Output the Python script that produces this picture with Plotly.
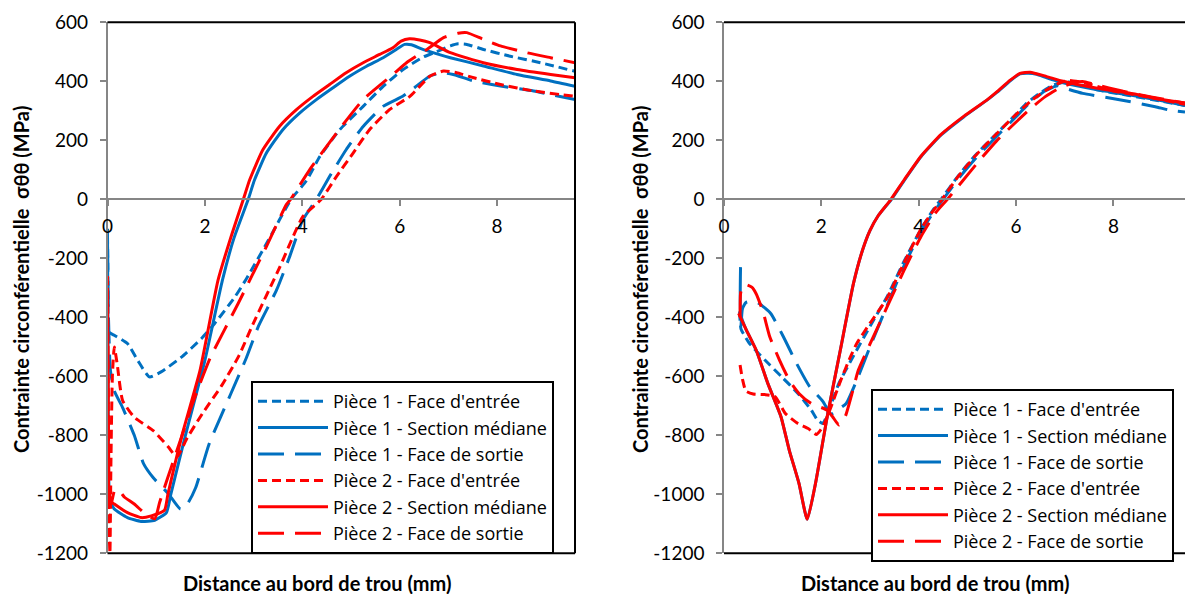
import plotly.graph_objects as go

# ---------------- data: left chart ----------------
L_P1_ENT_X = [0.0, 0.01, 0.03, 0.14, 0.41, 0.62, 0.86, 1.1, 1.52, 1.93, 2.2, 2.62, 2.85, 3.3, 3.77, 4.08, 4.36, 4.77, 5.25, 5.66, 6.07, 6.48, 6.75, 7.04, 7.2, 7.38, 7.72, 8.27, 8.89, 9.6]
L_P1_ENT_Y = [-120, -300, -450, -461, -489, -546, -602, -585, -535, -472, -421, -330, -270, -140, 0, 62, 145, 236, 315, 383, 440, 482, 500, 520, 527, 525, 508, 485, 463, 434]

L_P1_MED_X = [0.0, 0.01, 0.02, 0.05, 0.14, 0.41, 0.69, 0.97, 1.21, 1.3, 1.6, 2.0, 2.36, 2.6, 2.89, 3.02, 3.26, 3.6, 3.95, 4.29, 4.63, 4.97, 5.32, 5.66, 5.93, 6.1, 6.24, 6.45, 6.75, 7.04, 7.72, 8.41, 9.1, 9.6]
L_P1_MED_Y = [-100, -500, -900, -1020, -1050, -1079, -1092, -1088, -1062, -1000, -800, -546, -274, -130, 0, 66, 156, 236, 293, 338, 378, 417, 451, 480, 508, 525, 524, 510, 494, 480, 452, 423, 401, 383]

L_P1_SOR_X = [0.0, 0.02, 0.06, 0.14, 0.31, 0.55, 0.74, 0.94, 1.25, 1.5, 1.65, 1.81, 2.09, 2.53, 2.85, 3.1, 3.47, 3.75, 4.01, 4.29, 4.56, 4.9, 5.25, 5.66, 6.07, 6.28, 6.62, 6.9, 7.1, 7.52, 8.07, 8.75, 9.6]
L_P1_SOR_Y = [-150, -400, -580, -650, -706, -800, -896, -944, -998, -1050, -1030, -978, -828, -660, -538, -430, -308, -190, -70, 0, 77, 168, 247, 315, 350, 375, 418, 429, 423, 401, 384, 367, 338]

L_P2_ENT_X = [0.0, 0.015, 0.03, 0.05, 0.07, 0.1, 0.14, 0.2, 0.31, 0.55, 0.94, 1.25, 1.42, 1.64, 1.95, 2.35, 2.7, 2.99, 3.54, 4.01, 4.39, 4.7, 5.04, 5.38, 5.79, 6.21, 6.62, 6.9, 7.17, 7.52, 8.07, 8.75, 9.6]
L_P2_ENT_Y = [-260, -700, -1100, -1200, -900, -600, -501, -560, -682, -739, -784, -840, -874, -808, -726, -630, -530, -422, -229, -59, 0, 77, 156, 236, 304, 349, 417, 435, 429, 412, 389, 367, 349]

L_P2_MED_X = [0.0, 0.01, 0.02, 0.04, 0.14, 0.41, 0.69, 0.9, 1.17, 1.24, 1.53, 1.9, 2.27, 2.55, 2.79, 2.92, 3.19, 3.53, 3.88, 4.22, 4.56, 4.9, 5.25, 5.59, 5.86, 6.03, 6.2, 6.41, 6.62, 7.04, 7.72, 8.41, 9.1, 9.6]
L_P2_MED_Y = [-300, -650, -950, -1020, -1033, -1062, -1079, -1073, -1054, -1000, -800, -580, -274, -120, 0, 66, 168, 247, 304, 349, 389, 429, 463, 491, 514, 536, 544, 540, 531, 497, 463, 440, 423, 412]

L_P2_SOR_X = [0.0, 0.02, 0.04, 0.08, 0.15, 0.25, 0.35, 0.55, 0.78, 0.97, 1.07, 1.17, 1.31, 1.45, 1.59, 1.72, 2.1, 2.68, 3.26, 3.67, 3.76, 4.15, 4.7, 5.25, 5.86, 6.14, 6.34, 6.56, 6.9, 7.2, 7.38, 7.72, 8.07, 8.61, 9.1, 9.6]
L_P2_SOR_Y = [-480, -800, -1000, -1030, -985, -990, -1010, -1033, -1067, -1083, -1028, -977, -908, -840, -772, -704, -541, -354, -161, -19, 0, 100, 224, 338, 423, 463, 485, 508, 548, 563, 565, 542, 520, 497, 480, 463]

# ---------------- data: right chart ----------------
R_P1_ENT_X = [0.32, 0.35, 0.45, 0.52, 0.84, 1.18, 1.52, 1.79, 1.92, 2.03, 2.13, 2.36, 2.63, 3.0, 3.35, 3.7, 4.05, 4.3, 4.46, 4.8, 5.14, 5.54, 5.95, 6.22, 6.49, 6.76, 7.0, 7.2, 7.64, 8.32, 9.0, 9.47]
R_P1_ENT_Y = [-380, -440, -470, -488, -545, -601, -658, -714, -748, -760, -726, -624, -540, -430, -330, -210, -100, -35, 0, 77, 145, 213, 280, 326, 360, 387, 398, 395, 372, 352, 332, 318]

R_P1_MED_X = [0.34, 0.345, 0.45, 0.66, 0.9, 1.17, 1.34, 1.54, 1.71, 1.88, 2.12, 2.39, 2.66, 2.85, 3.0, 3.17, 3.44, 3.71, 4.05, 4.46, 4.93, 5.41, 5.61, 5.88, 6.08, 6.25, 6.42, 6.63, 6.97, 7.64, 8.32, 9.0, 9.47]
R_P1_MED_Y = [-230, -392, -440, -511, -624, -737, -850, -963, -1085, -963, -737, -511, -285, -170, -105, -55, 0, 66, 145, 218, 280, 337, 363, 402, 425, 427, 424, 412, 395, 372, 354, 334, 318]

R_P1_SOR_X = [0.35, 0.38, 0.45, 0.6, 0.73, 0.96, 1.22, 1.49, 1.76, 2.03, 2.2, 2.35, 2.51, 2.7, 3.0, 3.35, 3.7, 4.05, 4.3, 4.5, 4.85, 5.2, 5.6, 6.0, 6.3, 6.6, 6.85, 6.97, 7.37, 7.98, 8.86, 9.13, 9.47]
R_P1_SOR_Y = [-430, -370, -350, -345, -354, -387, -466, -556, -635, -685, -728, -712, -692, -624, -500, -360, -225, -110, -45, 0, 77, 145, 213, 280, 330, 368, 385, 378, 359, 342, 314, 303, 296]

R_P2_ENT_X = [0.33, 0.38, 0.45, 0.6, 0.84, 1.05, 1.26, 1.52, 1.73, 1.9, 2.03, 2.2, 2.4, 2.6, 2.73, 3.0, 3.35, 3.7, 4.05, 4.3, 4.48, 4.8, 5.14, 5.54, 5.95, 6.3, 6.6, 6.9, 7.1, 7.4, 8.0, 8.6, 9.47]
R_P2_ENT_Y = [-562, -610, -650, -660, -662, -669, -726, -760, -777, -797, -771, -703, -613, -533, -488, -420, -335, -215, -100, -38, 0, 75, 143, 212, 280, 333, 368, 395, 403, 395, 367, 350, 322]

R_P2_MED_X = [0.3, 0.45, 0.66, 0.9, 1.17, 1.34, 1.54, 1.71, 1.88, 2.12, 2.39, 2.66, 2.85, 3.0, 3.17, 3.43, 3.71, 4.05, 4.46, 4.93, 5.41, 5.61, 5.88, 6.08, 6.29, 6.63, 6.97, 7.64, 8.32, 9.0, 9.47]
R_P2_MED_Y = [-387, -440, -511, -624, -737, -850, -963, -1085, -963, -737, -511, -285, -170, -105, -55, 0, 68, 147, 220, 282, 338, 365, 404, 427, 431, 416, 400, 377, 360, 338, 326]

R_P2_SOR_X = [0.33, 0.34, 0.38, 0.46, 0.57, 0.66, 0.8, 0.94, 1.14, 1.34, 1.54, 1.79, 2.11, 2.23, 2.36, 2.49, 2.63, 2.76, 3.0, 3.35, 3.7, 4.05, 4.35, 4.59, 4.9, 5.25, 5.6, 6.0, 6.3, 6.6, 6.9, 7.2, 7.37, 7.6, 8.2, 8.8, 9.47]
R_P2_SOR_Y = [-400, -320, -295, -290, -298, -320, -380, -466, -545, -613, -658, -692, -714, -737, -765, -737, -658, -579, -490, -365, -240, -125, -45, 0, 62, 132, 198, 262, 308, 348, 378, 395, 399, 390, 366, 346, 326]

SERIES_NAMES = ["Pièce 1 - Face d'entrée", "Pièce 1 - Section médiane", "Pièce 1 - Face de sortie",
                "Pièce 2 - Face d'entrée", "Pièce 2 - Section médiane", "Pièce 2 - Face de sortie"]

Y_TICKS = [-1200, -1000, -800, -600, -400, -200, 0, 200, 400, 600]
Y_TICK_LABELS = ["-1200", "-1000", "-800", "-600", "-400", "-200", "0", "200", "400", "600"]
X_TICKS = [0, 2, 4, 6, 8]
X_TICK_LABELS = ["0", "2", "4", "6", "8"]

X_TITLE = "Distance au bord de trou (mm)"
Y_TITLE = "Contrainte circonférentielle \u00a0σθθ (MPa)"

# ---------------- styling ----------------
BLUE = "#0070C0"
RED = "#FF0000"
SHORT = "9px,5px"
LONG = "26px,11px"
FONT = "Lato"
GRAY = "#868686"

left = [(L_P1_ENT_X, L_P1_ENT_Y), (L_P1_MED_X, L_P1_MED_Y), (L_P1_SOR_X, L_P1_SOR_Y),
        (L_P2_ENT_X, L_P2_ENT_Y), (L_P2_MED_X, L_P2_MED_Y), (L_P2_SOR_X, L_P2_SOR_Y)]
right = [(R_P1_ENT_X, R_P1_ENT_Y), (R_P1_MED_X, R_P1_MED_Y), (R_P1_SOR_X, R_P1_SOR_Y),
         (R_P2_ENT_X, R_P2_ENT_Y), (R_P2_MED_X, R_P2_MED_Y), (R_P2_SOR_X, R_P2_SOR_Y)]
styles = [(BLUE, SHORT), (BLUE, "solid"), (BLUE, LONG), (RED, SHORT), (RED, "solid"), (RED, LONG)]

fig = go.Figure()
for (x, y), name, (c, d) in zip(left, SERIES_NAMES, styles):
    fig.add_trace(go.Scatter(x=x, y=y, mode="lines", name=name, xaxis="x", yaxis="y", legend="legend",
                             line=dict(color=c, width=3, dash=d, shape="spline", smoothing=0.5)))
for (x, y), name, (c, d) in zip(right, SERIES_NAMES, styles):
    fig.add_trace(go.Scatter(x=x, y=y, mode="lines", name=name, xaxis="x2", yaxis="y2", legend="legend2",
                             line=dict(color=c, width=3, dash=d, shape="spline", smoothing=0.5)))

W, H = 1185, 594
YD = [1 - 553.3 / H, 1 - 22.3 / H]
LXD = [107.5 / W, 575 / W]
RXD = [724 / W, 1.0]
ZERO_POS = YD[0] + (YD[1] - YD[0]) * (1200 / 1800)

tickfont = dict(family=FONT, size=19, color="black")
xcommon = dict(anchor="free", position=ZERO_POS, tickvals=X_TICKS, ticktext=X_TICK_LABELS,
               showline=True, linecolor=GRAY, linewidth=1.5, ticks="outside", ticklen=6,
               tickcolor=GRAY, tickwidth=1.5, showgrid=False, zeroline=False, tickfont=tickfont,
               ticklabelstandoff=4, automargin=False)
ycommon = dict(domain=YD, range=[-1200, 600], tickvals=Y_TICKS, ticktext=Y_TICK_LABELS,
               showline=True, linecolor=GRAY, linewidth=1.5, ticks="outside", ticklen=6,
               tickcolor=GRAY, tickwidth=1.5, showgrid=False, zeroline=False, tickfont=tickfont,
               ticklabelstandoff=8, automargin=False)

legcommon = dict(xanchor="left", yanchor="top", bordercolor="black", borderwidth=2, bgcolor="white",
                 font=dict(family="Open Sans", size=18, color="black"), itemwidth=70, tracegroupgap=0)

fig.update_layout(
    width=W, height=H, margin=dict(l=0, r=0, t=0, b=0, autoexpand=False),
    paper_bgcolor="white", plot_bgcolor="white", showlegend=True,
    xaxis=dict(domain=LXD, range=[0, 9.6], **xcommon),
    yaxis=dict(anchor="x", **ycommon),
    xaxis2=dict(domain=RXD, range=[0, 9.47], **xcommon),
    yaxis2=dict(anchor="x2", **ycommon),
    legend=dict(x=251 / W, y=1 - 381 / H, **legcommon),
    legend2=dict(x=871 / W, y=1 - 389 / H, **legcommon),
)

shapes = []
for xd, right_border in ((LXD, True), (RXD, False)):
    shapes.append(dict(type="line", xref="paper", yref="paper", x0=xd[0], x1=xd[1], y0=YD[1], y1=YD[1],
                       line=dict(color="black", width=2)))
    shapes.append(dict(type="line", xref="paper", yref="paper", x0=xd[0], x1=xd[1], y0=YD[0], y1=YD[0],
                       line=dict(color="black", width=2)))
    if right_border:
        shapes.append(dict(type="line", xref="paper", yref="paper", x0=xd[1], x1=xd[1], y0=YD[0], y1=YD[1],
                           line=dict(color="black", width=2)))
fig.update_layout(shapes=shapes)

titlefont = dict(family=FONT, size=20, color="black", weight="bold")
anns = []
for xc in (317, 935):
    anns.append(dict(text=X_TITLE, xref="paper", yref="paper", x=xc / W, y=1 - 583 / H,
                     showarrow=False, xanchor="center", yanchor="middle", font=titlefont))
for xc in (21, 640):
    anns.append(dict(text=Y_TITLE, xref="paper", yref="paper", x=xc / W, y=1 - 280 / H,
                     showarrow=False, xanchor="center", yanchor="middle", textangle=-90, font=titlefont))
fig.update_layout(annotations=anns)

fig.write_html("out.html", config={"displayModeBar": False},
               post_script="document.body.style.margin='0';document.body.style.padding='0';document.body.style.overflow='hidden';")
